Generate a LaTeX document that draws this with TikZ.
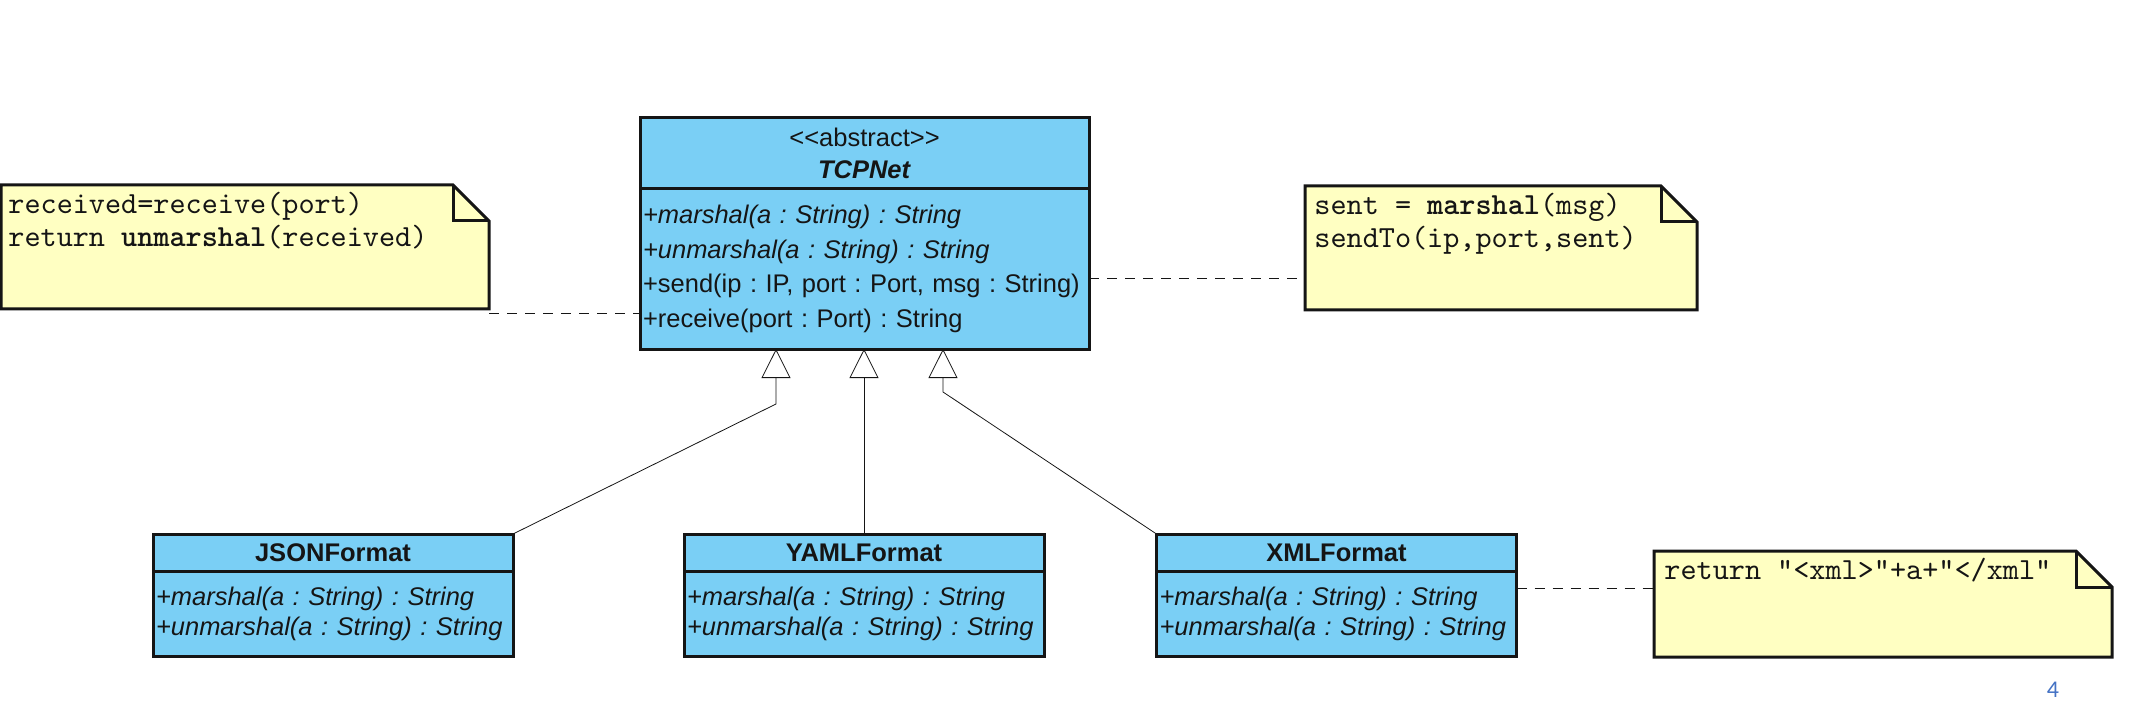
\documentclass[tikz,border=0pt]{standalone}
\usepackage{fontspec}
\setmainfont{Liberation Sans}[Ligatures=TeXOff]
\newfontfamily\codefont{lmmono10-regular.otf}[BoldFont=lmmonolt10-bold.otf,Ligatures=TeXOff]
\newfontfamily\pagefont{Carlito}
\frenchspacing
\usetikzlibrary{arrows.meta,calc}
\definecolor{classfill}{HTML}{7ACFF5}
\definecolor{notefill}{HTML}{FFFFC2}
\definecolor{umlink}{HTML}{151515}
\definecolor{pageblue}{HTML}{4472C4}
\tikzset{line width=1.4pt,
  every node/.style={font=\fontsize{12.75}{17.25}\selectfont,text=umlink},
  classhead/.style={draw=umlink,fill=classfill,line width=1.5pt,inner sep=0pt,outer sep=0pt,align=center},
  classbody/.style={draw=umlink,fill=classfill,line width=1.5pt,inner xsep=1.5pt,inner ysep=0pt,outer sep=0pt,align=left,anchor=north},
  notebox/.style={inner sep=0pt,outer sep=0pt},
  notetext/.style={anchor=north west,inner sep=0pt,align=left,font=\codefont\fontsize{15.35}{16.5}\selectfont},
  notepath/.style={draw=umlink,fill=notefill,line width=1.5pt,line join=miter},
  dashlink/.style={draw=umlink,dash pattern=on 5pt off 4pt},
  inherit/.style={draw=umlink,-{Triangle[open,length=14.5pt,width=14.5pt]}}}

\begin{document}
\begin{tikzpicture}[x=.5pt,y=-.5pt]
\useasboundingbox (0,0) rectangle (2147,727);
% abstract base class
\node[classhead,minimum width=224.5pt,minimum height=35.5pt] (tcp-head) at (864.5,153.5) {<<abstract>>\\[-1pt]\textbf{\textit{TCPNet}}};
\node[classbody,minimum width=224.5pt,minimum height=80pt,text width=221.5pt] (tcp-body) at (tcp-head.south) {\textit{+marshal(a : String) : String}\\\textit{+unmarshal(a : String) : String}\\+send(ip : IP, port : Port, msg : String)\\+receive(port : Port) : String};
% concrete formats
\foreach \cls/\lab/\cx in {json/JSONFormat/333,yaml/YAMLFormat/864,xml/XMLFormat/1336.5}{
  \node[classhead,minimum width=180pt,minimum height=18.5pt] (\cls-head) at (\cx,552.5) {\textbf{\lab}};
  \node[classbody,minimum width=180pt,minimum height=42.5pt,text width=177pt,font=\fontsize{12.75}{15}\selectfont] (\cls-body) at (\cls-head.south) {\textit{+marshal(a : String) : String}\\\textit{+unmarshal(a : String) : String}};
}
% notes
\node[notebox,minimum width=244pt,minimum height=62pt] (lnote) at (245,247) {};
\node[notebox,minimum width=196pt,minimum height=62pt] (rnote) at (1501,248) {};
\node[notebox,minimum width=229pt,minimum height=53pt] (xnote) at (1883,604) {};
\foreach \n in {lnote,rnote,xnote}{
  \draw[notepath] (\n.north west) -- ([xshift=-18pt]\n.north east) -- ([yshift=-18pt]\n.north east) -- (\n.south east) -- (\n.south west) -- cycle;
  \draw[draw=umlink,line width=1.5pt] ([xshift=-18pt]\n.north east) |- ([yshift=-18pt]\n.north east);
}
\node[notetext] (lnote-code) at ([xshift=3.5pt,yshift=-3.5pt]lnote.north west) {received=receive(port)\\return \textbf{unmarshal}(received)};
\node[notetext] (rnote-code) at ([xshift=4.5pt,yshift=-3.5pt]rnote.north west) {sent = \textbf{marshal}(msg)\\sendTo(ip,port,sent)};
\node[notetext] (xnote-code) at ([xshift=5pt,yshift=-3.5pt]xnote.north west) {return "<xml>"+a+"</xml"};
% note links
\coordinate (l-link) at ([yshift=-2pt]lnote.south east);
\coordinate (r-link) at ([yshift=-15pt]rnote.west);
\coordinate (x-link) at ([yshift=8pt]xnote.west);
\draw[dashlink] (l-link) -- (l-link -| tcp-body.west);
\draw[dashlink] (tcp-body.east |- r-link) -- (r-link);
\draw[dashlink] (xml-body.east |- x-link) -- (x-link);
% generalisation
\coordinate (j-bend) at (776,404);
\coordinate (x-bend) at (943,392);
\draw[inherit] (json-head.north east) -- (j-bend) -- (j-bend |- tcp-body.south);
\draw[inherit] (yaml-head.north) -- (yaml-head.north |- tcp-body.south);
\draw[inherit] (xml-head.north west) -- (x-bend) -- (x-bend |- tcp-body.south);
\node[font=\pagefont\fontsize{12}{14}\selectfont,text=pageblue] (pageno) at (2053,690) {4};
\end{tikzpicture}
\end{document}
